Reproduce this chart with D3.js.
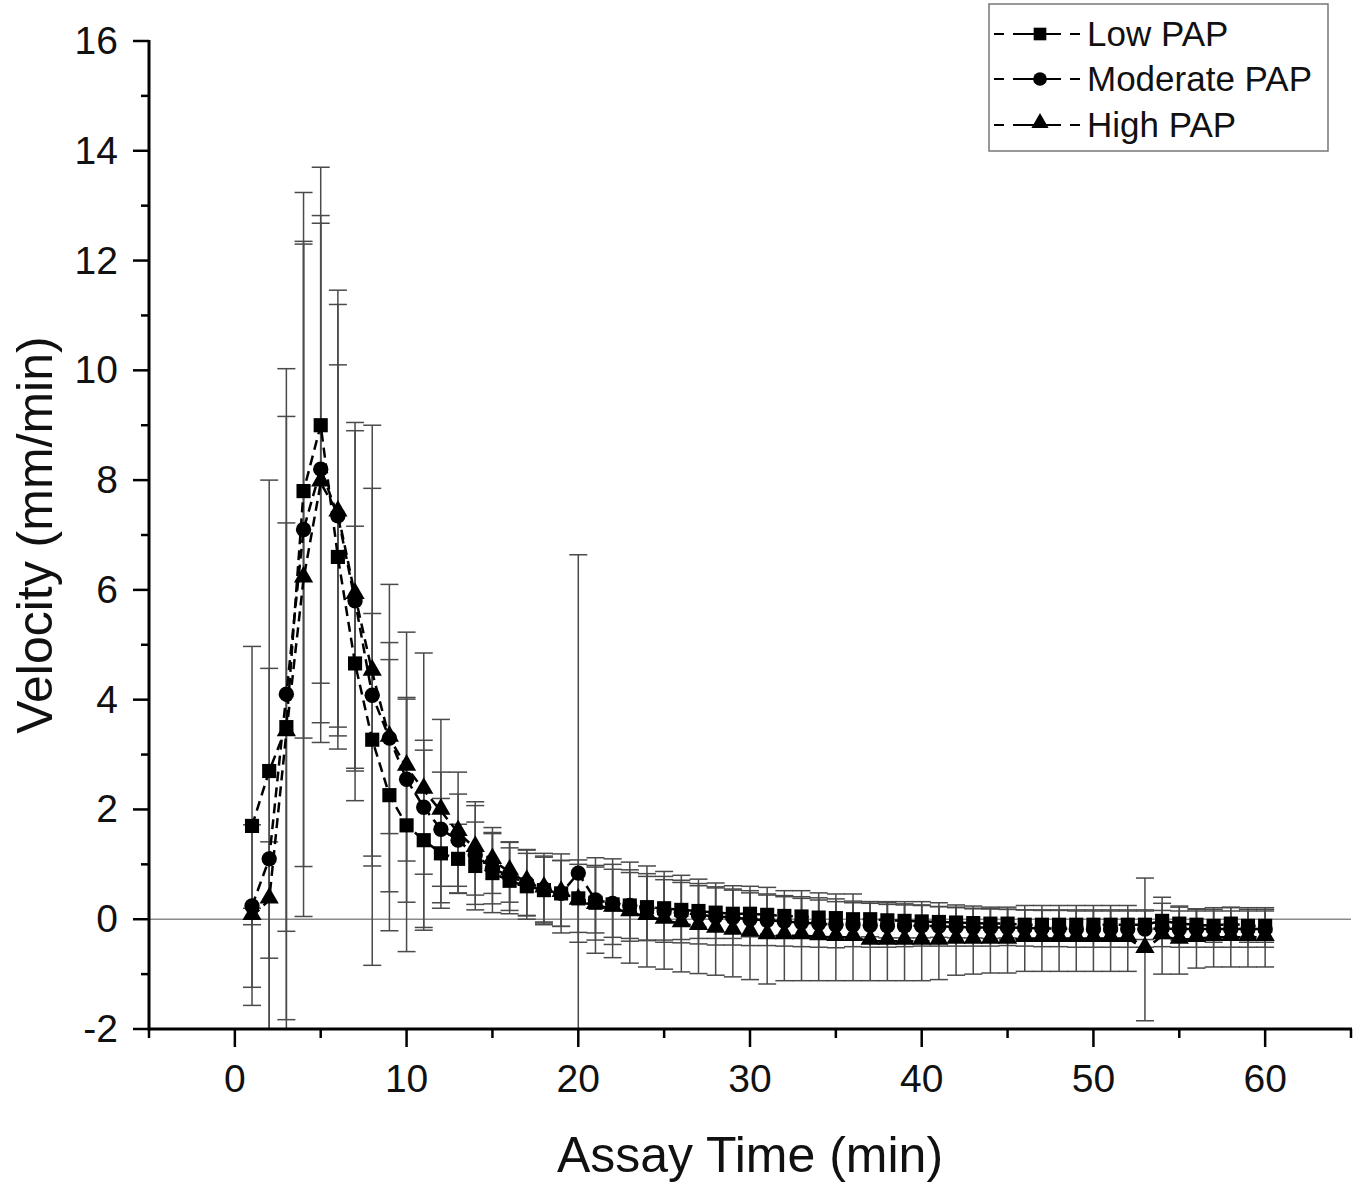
<!DOCTYPE html>
<html>
<head>
<meta charset="utf-8">
<script src="https://cdn.jsdelivr.net/npm/d3@7"></script>
<style>
  body { margin: 0; background: #fff; }
  svg text { font-family: "Liberation Sans", Arial, sans-serif; fill: #111; }
</style>
</head>
<body>
<div id="chart"></div>
<script>
// assay time in minutes
var times = [1, 2, 3, 4, 5, 6, 7, 8, 9, 10, 11, 12, 13, 14, 15, 16, 17, 18, 19, 20,
	21, 22, 23, 24, 25, 26, 27, 28, 29, 30, 31, 32, 33, 34, 35, 36, 37, 38, 39, 40,
	41, 42, 43, 44, 45, 46, 47, 48, 49, 50, 51, 52, 53, 54, 55, 56, 57, 58, 59, 60];

var low_mean = [1.7, 2.7, 3.5, 7.8, 9.0, 6.6, 4.66, 3.27, 2.26, 1.71, 1.44, 1.2, 1.1, 0.97, 0.84, 0.7, 0.6, 0.53, 0.47, 0.38,
	0.3, 0.27, 0.25, 0.22, 0.2, 0.17, 0.15, 0.12, 0.1, 0.1, 0.08, 0.06, 0.05, 0.03, 0.02, 0.0, 0.0, -0.02, -0.03, -0.04,
	-0.05, -0.06, -0.07, -0.08, -0.08, -0.1, -0.1, -0.1, -0.1, -0.1, -0.1, -0.1, -0.1, -0.03, -0.08, -0.1, -0.12, -0.08, -0.12, -0.12];
var low_sd = [3.27, 5.3, 3.72, 4.5, 4.7, 3.5, 2.5, 2.3, 2.47, 2.3, 1.64, 1.0, 0.63, 0.8, 0.72, 0.6, 0.6, 0.6, 0.6, 0.62,
	0.68, 0.73, 0.65, 0.61, 0.58, 0.54, 0.5, 0.47, 0.45, 0.42, 0.38, 0.37, 0.36, 0.36, 0.35, 0.33, 0.32, 0.32, 0.31, 0.3,
	0.28, 0.28, 0.27, 0.27, 0.26, 0.27, 0.27, 0.27, 0.27, 0.27, 0.27, 0.27, 0.27, 0.32, 0.3, 0.28, 0.3, 0.3, 0.3, 0.3];

var mod_mean = [0.24, 1.1, 4.1, 7.1, 8.2, 7.35, 5.8, 4.08, 3.3, 2.55, 2.04, 1.64, 1.44, 1.17, 0.93, 0.78, 0.66, 0.55, 0.47, 0.84,
	0.35, 0.29, 0.25, 0.2, 0.15, 0.12, 0.08, 0.05, 0.03, 0.0, -0.02, -0.04, -0.06, -0.08, -0.1, -0.1, -0.11, -0.12, -0.12, -0.12,
	-0.13, -0.14, -0.15, -0.15, -0.15, -0.16, -0.17, -0.17, -0.18, -0.18, -0.18, -0.18, -0.18, -0.17, -0.18, -0.18, -0.18, -0.18, -0.18, -0.18];
var mod_sd = [1.48, 3.47, 5.93, 6.14, 4.62, 3.85, 3.1, 4.92, 2.8, 1.49, 1.22, 1.04, 0.84, 0.9, 0.65, 0.62, 0.6, 0.6, 0.6, 5.8,
	0.6, 0.62, 0.6, 0.58, 0.57, 0.55, 0.53, 0.52, 0.5, 0.48, 0.46, 0.45, 0.44, 0.43, 0.42, 0.4, 0.4, 0.39, 0.38, 0.37,
	0.36, 0.35, 0.34, 0.34, 0.33, 0.33, 0.33, 0.33, 0.33, 0.33, 0.33, 0.33, 0.33, 0.33, 0.33, 0.33, 0.33, 0.33, 0.33, 0.33];

var high_mean = [0.05, 0.35, 3.4, 6.2, 7.95, 7.4, 5.9, 4.5, 3.3, 2.77, 2.35, 1.97, 1.58, 1.29, 1.07, 0.86, 0.67, 0.55, 0.47, 0.33,
	0.25, 0.2, 0.12, 0.05, -0.02, -0.08, -0.13, -0.18, -0.22, -0.25, -0.3, -0.3, -0.3, -0.32, -0.33, -0.33, -0.4, -0.4, -0.4, -0.4,
	-0.4, -0.38, -0.38, -0.38, -0.38, -0.35, -0.35, -0.35, -0.35, -0.35, -0.35, -0.35, -0.55, -0.3, -0.38, -0.35, -0.33, -0.33, -0.33, -0.33];
var high_sd = [0.15, 1.06, 5.76, 6.15, 4.73, 4.06, 3.15, 3.35, 1.74, 2.46, 2.5, 1.67, 1.1, 0.85, 0.6, 0.55, 0.6, 0.65, 0.72, 0.75,
	0.87, 0.9, 0.92, 0.92, 0.89, 0.88, 0.86, 0.84, 0.83, 0.85, 0.88, 0.82, 0.82, 0.8, 0.79, 0.79, 0.72, 0.72, 0.72, 0.72,
	0.7, 0.64, 0.62, 0.6, 0.6, 0.6, 0.6, 0.6, 0.6, 0.6, 0.6, 0.6, 1.3, 0.7, 0.62, 0.54, 0.54, 0.54, 0.54, 0.54];

var series_names = ['Low PAP', 'Moderate PAP', 'High PAP'];
var x_ticks = [0, 10, 20, 30, 40, 50, 60];
var y_ticks = [-2, 0, 2, 4, 6, 8, 10, 12, 14, 16];

var width = 1361,
	height = 1184,
	margin = {top: 41, bottom: 155, left: 149, right: 10};

var series = [
	{name: series_names[0], mean: low_mean, sd: low_sd, symbol: d3.symbolSquare, size: 200},
	{name: series_names[1], mean: mod_mean, sd: mod_sd, symbol: d3.symbolCircle, size: 185},
	{name: series_names[2], mean: high_mean, sd: high_sd, symbol: d3.symbolTriangle, size: 160}
];

var svg = d3.select('#chart').append('svg')
	.attr('width', width)
	.attr('height', height);

var x = d3.scaleLinear().domain([-5, 65]).range([margin.left, width - margin.right]);
var y = d3.scaleLinear().domain([-2, 16]).range([height - margin.bottom, margin.top]);

svg.append('clipPath').attr('id', 'plotclip')
	.append('rect')
	.attr('x', x(-5)).attr('y', y(16) - 5)
	.attr('width', x(65) - x(-5)).attr('height', y(-2) - y(16) + 5);

// zero reference line
svg.append('line')
	.attr('x1', x(-5)).attr('x2', x(65))
	.attr('y1', y(0)).attr('y2', y(0))
	.attr('stroke', '#8a8a8a')
	.attr('stroke-width', 1.5);

var plot = svg.append('g').attr('clip-path', 'url(#plotclip)');

// error bars first, so markers sit on top
var cap = 9;
series.forEach(function(s) {
	var eb = plot.append('g').attr('class', 'errorbars')
		.attr('stroke', '#4a4a4a')
		.attr('stroke-width', 1.5)
		.attr('fill', 'none');
	times.forEach(function(t, i) {
		var hi = s.mean[i] + s.sd[i],
			lo = s.mean[i] - s.sd[i];
		eb.append('line').attr('x1', x(t)).attr('x2', x(t)).attr('y1', y(hi)).attr('y2', y(lo));
		eb.append('line').attr('x1', x(t) - cap).attr('x2', x(t) + cap).attr('y1', y(hi)).attr('y2', y(hi));
		eb.append('line').attr('x1', x(t) - cap).attr('x2', x(t) + cap).attr('y1', y(lo)).attr('y2', y(lo));
	});
});

var line = d3.line()
	.x(function(d) { return x(d[0]); })
	.y(function(d) { return y(d[1]); });

series.forEach(function(s) {
	var pts = times.map(function(t, i) { return [t, s.mean[i]]; });
	plot.append('path')
		.datum(pts)
		.attr('d', line)
		.attr('fill', 'none')
		.attr('stroke', '#000')
		.attr('stroke-width', 2.5)
		.attr('stroke-dasharray', '10,6');
});

series.forEach(function(s) {
	var sym = d3.symbol().type(s.symbol).size(s.size);
	plot.append('g').selectAll('path')
		.data(times)
		.enter().append('path')
		.attr('d', sym)
		.attr('transform', function(t, i) {
			var dy = s.symbol === d3.symbolTriangle ? -2 : 0;
			return 'translate(' + x(t) + ',' + (y(s.mean[i]) + dy) + ')';
		})
		.attr('fill', '#000');
});

// axes
var xAxis = svg.append('g')
	.attr('transform', 'translate(0,' + y(-2) + ')');
xAxis.append('line')
	.attr('x1', x(-5) - 1.5).attr('x2', x(65) + 1)
	.attr('stroke', '#000').attr('stroke-width', 3);
xAxis.selectAll('.minor')
	.data(d3.range(-5, 66, 5))
	.enter().append('line')
	.attr('x1', function(d) { return x(d); }).attr('x2', function(d) { return x(d); })
	.attr('y1', 0)
	.attr('y2', function(d) { return d % 10 === 0 ? 18 : 9; })
	.attr('stroke', '#000').attr('stroke-width', 2.5);
xAxis.selectAll('text')
	.data(x_ticks)
	.enter().append('text')
	.attr('x', function(d) { return x(d); })
	.attr('y', 63)
	.attr('text-anchor', 'middle')
	.style('font-size', '39px')
	.text(function(d) { return d; });

var yAxis = svg.append('g')
	.attr('transform', 'translate(' + x(-5) + ',0)');
yAxis.append('line')
	.attr('y1', y(16) - 1).attr('y2', y(-2) + 1.5)
	.attr('stroke', '#000').attr('stroke-width', 3);
yAxis.selectAll('.minor')
	.data(d3.range(-2, 17, 1))
	.enter().append('line')
	.attr('y1', function(d) { return y(d); }).attr('y2', function(d) { return y(d); })
	.attr('x1', function(d) { return d % 2 === 0 ? -16 : -8; })
	.attr('x2', 0)
	.attr('stroke', '#000').attr('stroke-width', 2.5);
yAxis.selectAll('text')
	.data(y_ticks)
	.enter().append('text')
	.attr('x', -31)
	.attr('y', function(d) { return y(d) + 13; })
	.attr('text-anchor', 'end')
	.style('font-size', '39px')
	.text(function(d) { return d; });

// axis titles
svg.append('text')
	.attr('x', (x(-5) + x(65)) / 2)
	.attr('y', 1172)
	.attr('text-anchor', 'middle')
	.style('font-size', '50px')
	.text('Assay Time (min)');

svg.append('text')
	.attr('transform', 'translate(52,' + ((y(16) + y(-2)) / 2) + ') rotate(-90)')
	.attr('text-anchor', 'middle')
	.style('font-size', '50px')
	.text('Velocity (mm/min)');

// legend
var legend = svg.append('g').attr('class', 'legend');
legend.append('rect')
	.attr('x', 989).attr('y', 4)
	.attr('width', 339).attr('height', 147)
	.attr('fill', '#fff')
	.attr('stroke', '#777')
	.attr('stroke-width', 1.5);

var legend_rows = [34, 79, 125];
series.forEach(function(s, i) {
	var ly = legend_rows[i];
	legend.append('line')
		.attr('x1', 994).attr('x2', 1080)
		.attr('y1', ly).attr('y2', ly)
		.attr('stroke', '#000').attr('stroke-width', 2)
		.attr('stroke-dasharray', '10,9');
	legend.append('line')
		.attr('x1', 1022).attr('x2', 1058)
		.attr('y1', ly).attr('y2', ly)
		.attr('stroke', '#000').attr('stroke-width', 2);
	legend.append('path')
		.attr('d', d3.symbol().type(s.symbol).size(s.size * 0.8))
		.attr('transform', 'translate(1040,' + (ly - (s.symbol === d3.symbolTriangle ? 2 : 0)) + ')')
		.attr('fill', '#000');
	legend.append('text')
		.attr('x', 1087)
		.attr('y', ly + 12)
		.style('font-size', '35px')
		.text(s.name);
});
</script>
</body>
</html>
